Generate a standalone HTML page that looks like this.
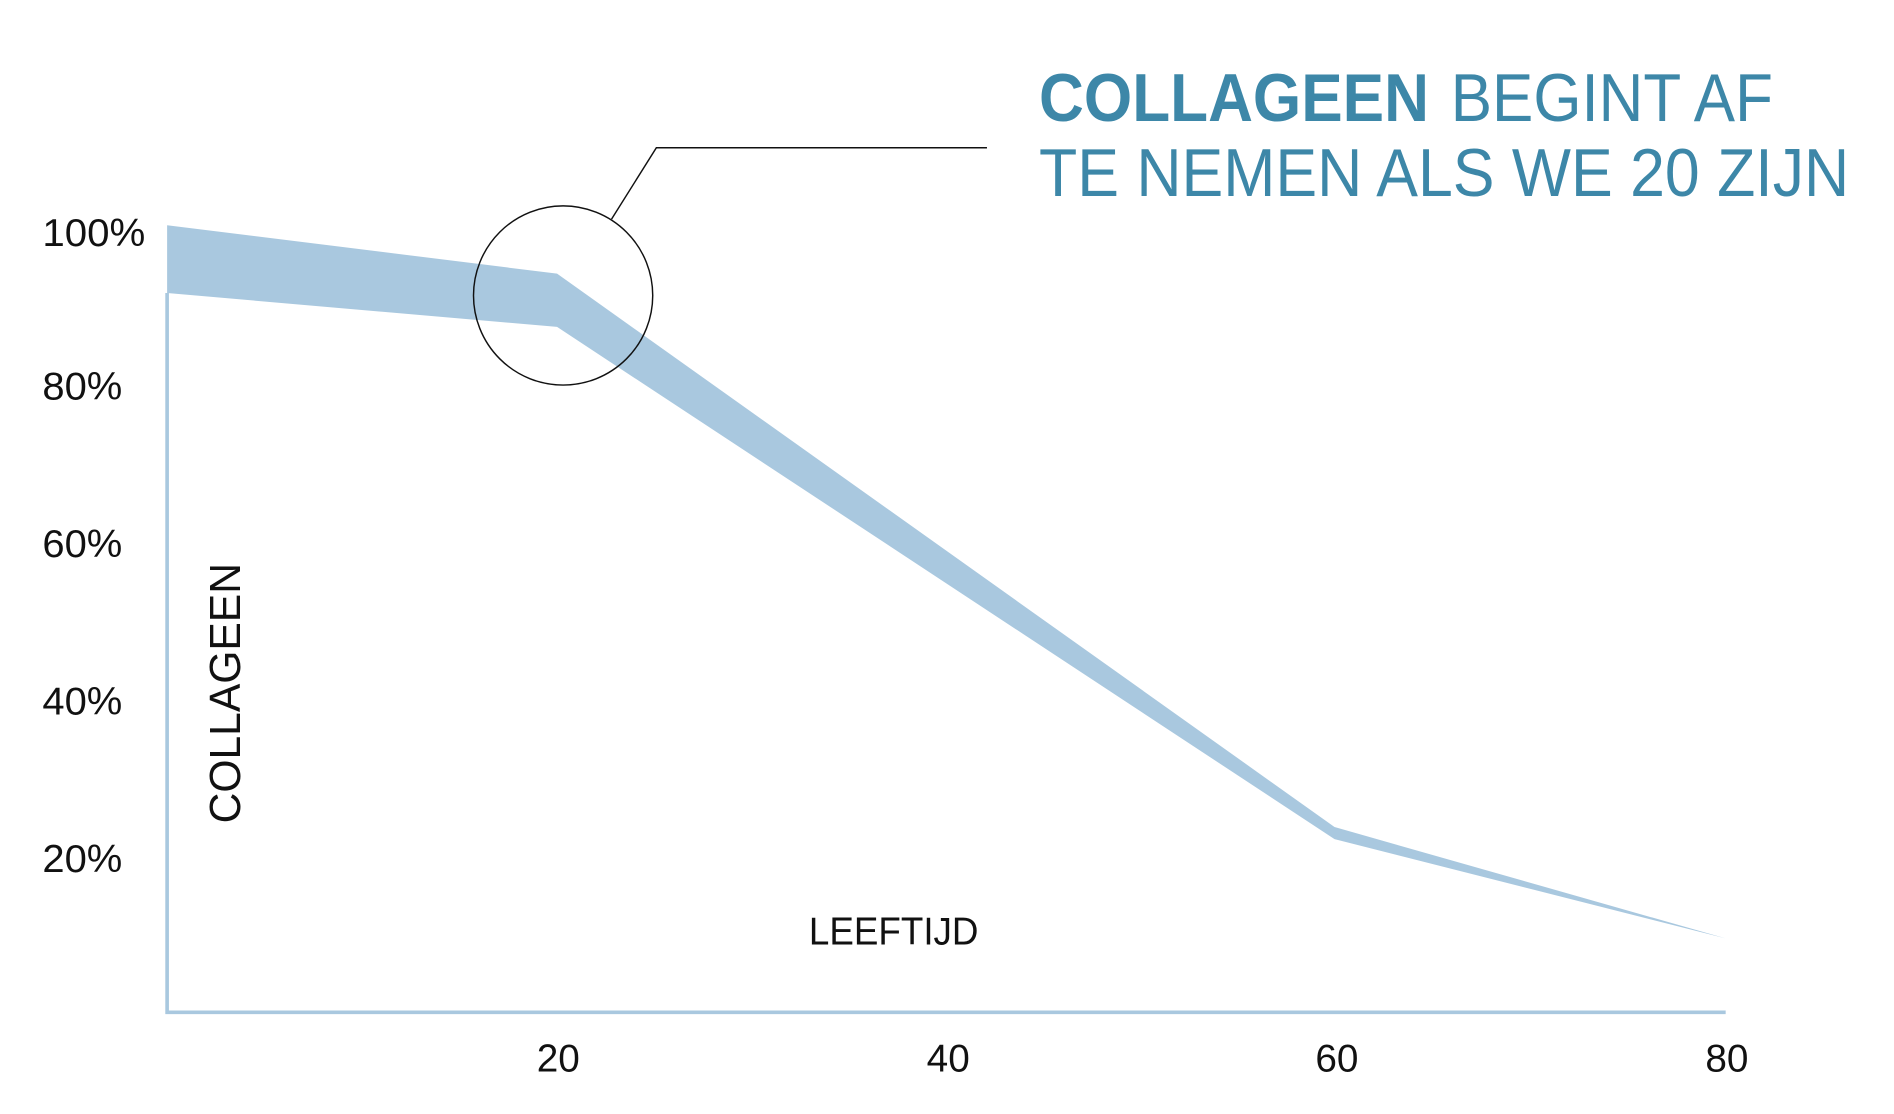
<!DOCTYPE html>
<html><head><meta charset="utf-8"><style>
html,body{margin:0;padding:0;background:#fff;}
svg{display:block;}
text{font-family:"Liberation Sans",sans-serif;}
</style></head><body>
<svg width="1894" height="1114" viewBox="0 0 1564 920" preserveAspectRatio="none">
<rect width="1564" height="920" fill="#fff"/>
<polyline points="138,242 138,836 1425,836" fill="none" stroke="#a9c8df" stroke-width="3"/>
<polygon points="138,186 460,226 1102,683 1425,775 1102,693 460,270 138,242" fill="#a9c8df"/>
<circle cx="465" cy="244" r="74" fill="none" stroke="#111" stroke-width="1.2"/>
<polyline points="505,181 542,122 815,122" fill="none" stroke="#111" stroke-width="1.2"/>
<text x="858" y="100" font-size="56" fill="#3d87a8" font-weight="bold" textLength="322" lengthAdjust="spacingAndGlyphs">COLLAGEEN</text>
<text x="1198" y="100" font-size="56" fill="#3d87a8" textLength="266" lengthAdjust="spacingAndGlyphs">BEGINT AF</text>
<text x="858" y="162" font-size="56" fill="#3d87a8" textLength="669" lengthAdjust="spacingAndGlyphs">TE NEMEN ALS WE 20 ZIJN</text>
<g font-size="32" fill="#111">
<text x="35" y="203" textLength="85" lengthAdjust="spacingAndGlyphs">100%</text>
<text x="35" y="330" textLength="66" lengthAdjust="spacingAndGlyphs">80%</text>
<text x="35" y="460" textLength="66" lengthAdjust="spacingAndGlyphs">60%</text>
<text x="35" y="590" textLength="66" lengthAdjust="spacingAndGlyphs">40%</text>
<text x="35" y="720" textLength="66" lengthAdjust="spacingAndGlyphs">20%</text>
<text x="461" y="885" text-anchor="middle">20</text>
<text x="783" y="885" text-anchor="middle">40</text>
<text x="1104" y="885" text-anchor="middle">60</text>
<text x="1426" y="885" text-anchor="middle">80</text>
<text x="668" y="780" textLength="140" lengthAdjust="spacingAndGlyphs">LEEFTIJD</text>
<text transform="translate(198,680) rotate(-90)" x="0" y="0" font-size="36" textLength="215" lengthAdjust="spacingAndGlyphs">COLLAGEEN</text>
</g>
</svg>
</body></html>
